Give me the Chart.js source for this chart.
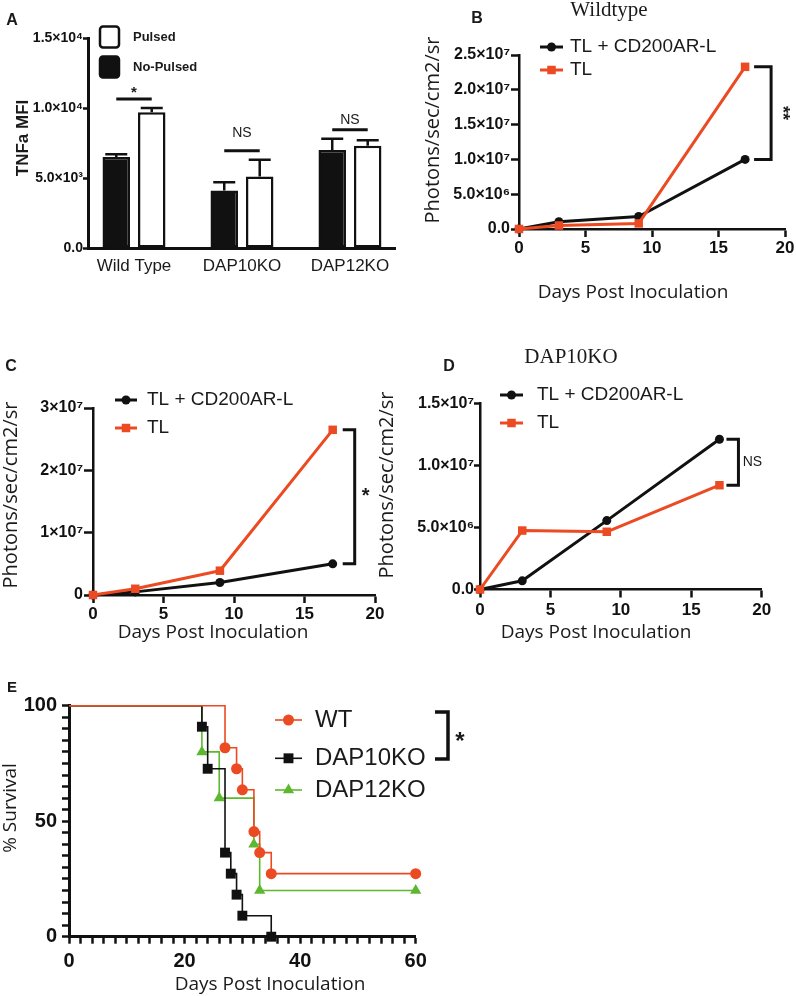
<!DOCTYPE html>
<html><head><meta charset="utf-8">
<script src="https://cdn.jsdelivr.net/npm/chart.js@4.4.1/dist/chart.umd.min.js"></script>
<style>
html,body{margin:0;padding:0;background:#fff;}
#wrap{position:relative;width:796px;height:996px;overflow:hidden;background:#fff;}
canvas{position:absolute;}
</style></head><body>
<div id="wrap">
<canvas id="cA" width="410" height="290" style="left:0;top:0;width:410px;height:290px"></canvas>
<canvas id="cB" width="396" height="310" style="left:400px;top:0;width:396px;height:310px"></canvas>
<canvas id="cC" width="400" height="310" style="left:0;top:340px;width:400px;height:310px"></canvas>
<canvas id="cD" width="426" height="310" style="left:370px;top:340px;width:426px;height:310px"></canvas>
<canvas id="cE" width="796" height="346" style="left:0;top:650px;width:796px;height:346px"></canvas>
</div>
<script>
// ---------------- DATA ----------------
const groupsA = ['Wild Type', 'DAP10KO', 'DAP12KO'];
const noPulsedA = [6500, 4100, 7000];
const noPulsedErrA = [200, 600, 800];
const pulsedA = [9700, 5100, 7300];
const pulsedErrA = [300, 1200, 400];
const sigA = ['*', 'NS', 'NS'];
const yTicksA = ['0.0', '5.0×10³', '1.0×10⁴', '1.5×10⁴'];

const days = [0, 3, 9, 17];
const xTicksDays = ['0', '5', '10', '15', '20'];
const seriesNames = ['TL + CD200AR-L', 'TL'];
const wtCD200 = [0, 1.05e6, 1.8e6, 1.0e7];
const wtTL = [0, 5e5, 8e5, 2.33e7];
const yTicksB = ['0.0', '5.0×10⁶', '1.0×10⁷', '1.5×10⁷', '2.0×10⁷', '2.5×10⁷'];
const cCD200 = [0, 5e5, 2.0e6, 5.0e6];
const cTL = [0, 1.0e6, 3.9e6, 2.65e7];
const yTicksC = ['0', '1×10⁷', '2×10⁷', '3×10⁷'];
const dap10CD200 = [0, 7e5, 5.55e6, 1.21e7];
const dap10TL = [0, 4.75e6, 4.65e6, 8.4e6];
const yTicksD = ['0.0', '5.0×10⁶', '1.0×10⁷', '1.5×10⁷'];

const survNames = ['WT', 'DAP10KO', 'DAP12KO'];
const wtDays = [0, 27, 29, 30, 32, 33, 35, 60];
const wtSurv = [100, 81.8, 72.7, 63.6, 45.5, 36.4, 27.3, 27.3];
const dap10Days = [0, 23, 24, 27, 28, 29, 30, 35];
const dap10Surv = [100, 90.9, 72.7, 36.4, 27.3, 18.2, 9.1, 0];
const dap12Days = [0, 23, 26, 32, 33, 60];
const dap12Surv = [100, 80, 60, 40, 20, 20];
const xTicksE = ['0', '20', '40', '60'];
const yTicksE = ['0', '50', '100'];

// ---------------- STYLE ----------------
const RED = '#EB4A22', BLK = '#111111', GRN = '#5DB82F', TXT = '#1a1a1a';
const SANS = '"Liberation Sans", Arial, sans-serif';
const OPEN = '"Open Sans", sans-serif';
const SERIF = '"Liberation Serif", "Times New Roman", serif';

Chart.defaults.font.family = SANS;
Chart.defaults.color = TXT;
Chart.defaults.animation = false;
Chart.defaults.responsive = false;
Chart.defaults.maintainAspectRatio = false;
Chart.defaults.plugins.legend.display = false;
Chart.defaults.plugins.tooltip.enabled = false;

function drawMarker(ctx, style, x, y, r, color) {
  ctx.save();
  ctx.fillStyle = color;
  ctx.beginPath();
  if (style === 'rect') {
    const s = r * Math.SQRT1_2;
    ctx.rect(x - s, y - s, 2 * s, 2 * s);
  } else if (style === 'triangle') {
    let a = 0;
    ctx.moveTo(x + Math.sin(a) * r, y - Math.cos(a) * r);
    a += 2 * Math.PI / 3; ctx.lineTo(x + Math.sin(a) * r, y - Math.cos(a) * r);
    a += 2 * Math.PI / 3; ctx.lineTo(x + Math.sin(a) * r, y - Math.cos(a) * r);
    ctx.closePath();
  } else {
    ctx.arc(x, y, r, 0, Math.PI * 2);
  }
  ctx.fill();
  ctx.restore();
}

// free text items (titles, panel letters, axis titles)
const textPlugin = {
  id: 'texts',
  afterDraw(chart, args, o) {
    const ctx = chart.ctx;
    (o.items || []).forEach(it => {
      ctx.save();
      ctx.font = it.font;
      ctx.fillStyle = it.color || TXT;
      ctx.textAlign = it.align || 'center';
      ctx.textBaseline = 'middle';
      ctx.translate(it.x, it.y);
      if (it.rot) ctx.rotate(it.rot);
      ctx.fillText(it.t, 0, 0);
      ctx.restore();
    });
  }
};

// legend with line + marker per dataset
const lineLegend = {
  id: 'lineLegend',
  afterDraw(chart, args, o) {
    if (!o.rows) return;
    const ctx = chart.ctx;
    chart.data.datasets.forEach((ds, i) => {
      const y = o.rows[i];
      ctx.save();
      ctx.strokeStyle = ds.borderColor;
      ctx.lineWidth = o.lineWidth || ds.borderWidth;
      ctx.beginPath(); ctx.moveTo(o.x0, y); ctx.lineTo(o.x1, y); ctx.stroke();
      drawMarker(ctx, ds.pointStyle, (o.x0 + o.x1) / 2, y, o.radius[i], ds.borderColor);
      ctx.font = o.font; ctx.fillStyle = TXT;
      ctx.textAlign = 'left'; ctx.textBaseline = 'middle';
      ctx.fillText(ds.label, o.tx, y + (o.dy || 0));
      ctx.restore();
    });
  }
};

// significance bracket at the last points of two datasets
const endBracket = {
  id: 'endBracket',
  afterDraw(chart, args, o) {
    if (!o.label) return;
    const ctx = chart.ctx;
    const m0 = chart.getDatasetMeta(0).data, m1 = chart.getDatasetMeta(1).data;
    const p0 = m0[m0.length - 1], p1 = m1[m1.length - 1];
    const x = Math.max(p0.x, p1.x) + o.dx;
    const y1 = Math.min(p0.y, p1.y), y2 = Math.max(p0.y, p1.y);
    ctx.save();
    ctx.strokeStyle = BLK; ctx.lineWidth = o.lw; ctx.lineJoin = 'miter';
    ctx.beginPath();
    ctx.moveTo(x - o.tick, y1); ctx.lineTo(x, y1); ctx.lineTo(x, y2); ctx.lineTo(x - o.tick, y2);
    ctx.stroke();
    ctx.font = o.font; ctx.fillStyle = TXT; ctx.textAlign = 'center'; ctx.textBaseline = 'middle';
    ctx.translate(x + o.labelDx, (y1 + y2) / 2 + (o.labelDy || 0));
    if (o.rot) ctx.rotate(o.rot);
    ctx.fillText(o.label, 0, 0);
    ctx.restore();
  }
};

// bar panel extras: error bars, significance lines, box legend
const barExtras = {
  id: 'barExtras',
  afterDatasetsDraw(chart, args, o) {
    if (!o.errors) return;
    const ctx = chart.ctx, ys = chart.scales.y;
    const tops = [];
    ctx.save();
    ctx.strokeStyle = BLK; ctx.lineWidth = 2.5;
    chart.data.datasets.forEach((ds, di) => {
      chart.getDatasetMeta(di).data.forEach((el, i) => {
        const top = ys.getPixelForValue(ds.data[i].y + o.errors[di][i]);
        tops[i] = tops[i] === undefined ? top : Math.min(tops[i], top);
        ctx.beginPath();
        ctx.moveTo(el.x, el.y); ctx.lineTo(el.x, top);
        ctx.moveTo(el.x - o.cap, top); ctx.lineTo(el.x + o.cap, top);
        ctx.stroke();
      });
    });
    // significance lines
    const a = chart.getDatasetMeta(0).data, b = chart.getDatasetMeta(1).data;
    ctx.lineWidth = 3;
    o.sig.forEach((s, i) => {
      const y = tops[i] - o.sigGap;
      ctx.beginPath(); ctx.moveTo(a[i].x, y); ctx.lineTo(b[i].x, y); ctx.stroke();
      ctx.font = s === '*' ? 'bold 15px ' + SANS : '14px ' + SANS;
      ctx.fillStyle = TXT; ctx.textAlign = 'center'; ctx.textBaseline = 'middle';
      ctx.fillText(s, (a[i].x + b[i].x) / 2, y - o.sigText[i]);
    });
    // box legend (Pulsed on top, No-Pulsed below)
    o.boxes.forEach(bx => {
      const ds = chart.data.datasets[bx.ds];
      ctx.beginPath();
      ctx.roundRect(bx.x, bx.y, bx.w, bx.h, 3);
      ctx.fillStyle = ds.backgroundColor; ctx.fill();
      ctx.lineWidth = 2.5; ctx.strokeStyle = BLK; ctx.stroke();
      ctx.font = 'bold 13px ' + SANS; ctx.fillStyle = TXT;
      ctx.textAlign = 'left'; ctx.textBaseline = 'middle';
      ctx.fillText(ds.label, bx.x + 33, bx.y + bx.h / 2);
    });
    ctx.restore();
  }
};

Chart.register(textPlugin, lineLegend, endBracket, barExtras);

function axisStyle(width) {
  return { border: { display: true, color: BLK, width: width } };
}

// ---------------- PANEL A ----------------
new Chart(document.getElementById('cA'), {
  type: 'bar',
  data: {
    datasets: [
      { label: 'No-Pulsed', data: noPulsedA.map((v, i) => ({ x: i, y: v })),
        backgroundColor: BLK, borderColor: BLK, borderWidth: 2.5 },
      { label: 'Pulsed', data: pulsedA.map((v, i) => ({ x: i, y: v })),
        backgroundColor: '#ffffff', borderColor: BLK, borderWidth: 2.5 }
    ]
  },
  options: {
    layout: { padding: { left: 0, top: 38, right: 15, bottom: 12 } },
    datasets: { bar: { categoryPercentage: 0.657, barPercentage: 0.775, borderSkipped: false } },
    scales: {
      x: {
        type: 'linear', min: -0.426, max: 2.417, offset: false,
        afterFit: s => { s.height = 30; },
        afterBuildTicks: s => { s.ticks = s.ticks.filter(t => Number.isInteger(t.value)); },
        ticks: { stepSize: 1, includeBounds: false, callback: v => groupsA[v], font: { size: 17 }, color: TXT, padding: 8, maxRotation: 0, autoSkip: false },
        grid: { display: true, offset: false, drawOnChartArea: false, drawTicks: false },
        ...axisStyle(3)
      },
      y: {
        min: 0, max: 15000,
        afterFit: s => { s.width = 88; },
        ticks: { stepSize: 5000, callback: (v, i) => yTicksA[i], font: { size: 14, weight: 'bold' }, color: BLK, padding: 0 },
        grid: { drawOnChartArea: false, tickLength: 5, tickWidth: 2.5, tickColor: BLK },
        ...axisStyle(3)
      }
    },
    plugins: {
      barExtras: {
        errors: [noPulsedErrA, pulsedErrA], cap: 11, sig: sigA, sigGap: 9, sigText: [6, 18, 10],
        boxes: [{ ds: 1, x: 100, y: 26.5, w: 19, h: 21 }, { ds: 0, x: 100, y: 56.5, w: 19, h: 21 }]
      },
      texts: { items: [
        { t: 'A', x: 12, y: 21, font: 'bold 16px ' + SANS },
        { t: 'TNFa MFI', x: 23, y: 138, rot: -Math.PI / 2, font: 'bold 17px ' + SANS }
      ] }
    }
  }
});

// ---------------- LINE PANELS B, C, D ----------------
function lineChart(id, cd, tl, yMax, yStep, yTicks, geo, extra) {
  return new Chart(document.getElementById(id), {
    type: 'line',
    data: {
      datasets: [
        { label: seriesNames[0], data: days.map((d, i) => ({ x: d, y: cd[i] })),
          borderColor: BLK, backgroundColor: BLK, borderWidth: 3, pointStyle: 'circle',
          pointRadius: 4.5, pointBorderWidth: 0, pointBackgroundColor: BLK, order: 1, clip: false, borderJoinStyle: 'round' },
        { label: seriesNames[1], data: days.map((d, i) => ({ x: d, y: tl[i] })),
          borderColor: RED, backgroundColor: RED, borderWidth: 3, pointStyle: 'rect',
          pointRadius: 6, pointBorderWidth: 0, pointBackgroundColor: RED, order: 0, clip: false, borderJoinStyle: 'round' }
      ]
    },
    options: {
      layout: { padding: geo.padding },
      scales: {
        x: {
          type: 'linear', min: 0, max: 20,
          afterFit: s => { s.height = 30; },
          ticks: { stepSize: 5, callback: (v, i) => xTicksDays[i], font: { size: 17, weight: 'bold' }, color: BLK, padding: geo.xPad, maxRotation: 0, autoSkip: false },
          grid: { drawOnChartArea: false, tickLength: 8, tickWidth: 2.5, tickColor: BLK },
          ...axisStyle(2.5)
        },
        y: {
          type: 'linear', min: 0, max: yMax,
          afterFit: s => { s.width = geo.yW; },
          ticks: { stepSize: yStep, callback: (v, i) => yTicks[i], font: { size: 16, weight: 'bold' }, color: BLK, padding: geo.yPad },
          grid: { drawOnChartArea: false, tickLength: geo.yTick, tickWidth: 2.5, tickColor: BLK },
          ...axisStyle(2.5)
        }
      },
      plugins: extra
    }
  });
}

lineChart('cB', wtCD200, wtTL, 2.5e7, 5e6, yTicksB,
  { padding: { left: 0, top: 55, right: 11, bottom: 51 }, yW: 119, xPad: 1, yPad: 1, yTick: 8 },
  {
    lineLegend: { x0: 140, x1: 163, tx: 170, rows: [47, 70], font: '19px ' + SANS, radius: [4.5, 6] },
    endBracket: { dx: 26, tick: 17, lw: 3, label: '**', font: 'bold 18px ' + SANS, labelDx: 11, rot: Math.PI / 2 },
    texts: { items: [
      { t: 'Wildtype', x: 209, y: 10, font: '21px ' + SERIF },
      { t: 'B', x: 77, y: 19, font: 'bold 16px ' + SANS },
      { t: 'Days Post Inoculation', x: 233, y: 293, font: '19px ' + OPEN },
      { t: 'Photons/sec/cm2/sr', x: 33, y: 130, rot: -Math.PI / 2, font: '20px ' + OPEN }
    ] }
  });

lineChart('cC', cCD200, cTL, 3e7, 1e7, yTicksC,
  { padding: { left: 0, top: 68, right: 25, bottom: 25 }, yW: 93, xPad: 1, yPad: 1, yTick: 9 },
  {
    lineLegend: { x0: 115, x1: 137, tx: 147, rows: [60, 88], font: '19px ' + SANS, radius: [4.5, 6] },
    endBracket: { dx: 22, tick: 12, lw: 3, label: '*', font: 'bold 20px ' + SANS, labelDx: 11, labelDy: 0 },
    texts: { items: [
      { t: 'C', x: 11, y: 27, font: 'bold 16px ' + SANS },
      { t: 'Days Post Inoculation', x: 213, y: 293, font: '19px ' + OPEN },
      { t: 'Photons/sec/cm2/sr', x: 11, y: 155, rot: -Math.PI / 2, font: '20px ' + OPEN }
    ] }
  });

lineChart('cD', dap10CD200, dap10TL, 1.5e7, 5e6, yTicksD,
  { padding: { left: 0, top: 63.3, right: 34.3, bottom: 30.5 }, yW: 110, xPad: 2.3, yPad: 0, yTick: 6 },
  {
    lineLegend: { x0: 130, x1: 153, tx: 167, rows: [55, 83], font: '19px ' + SANS, radius: [4.5, 6] },
    endBracket: { dx: 19, tick: 12, lw: 3, label: 'NS', font: '14px ' + SANS, labelDx: 14 },
    texts: { items: [
      { t: 'DAP10KO', x: 201, y: 17, font: '21px ' + SERIF },
      { t: 'D', x: 79, y: 27, font: 'bold 16px ' + SANS },
      { t: 'Days Post Inoculation', x: 226, y: 293, font: '19px ' + OPEN },
      { t: 'Photons/sec/cm2/sr', x: 17, y: 145, rot: -Math.PI / 2, font: '20px ' + OPEN }
    ] }
  });

// ---------------- PANEL E ----------------
const eBracket = {
  id: 'eBracket',
  afterDraw(chart) {
    const ctx = chart.ctx;
    ctx.save();
    ctx.strokeStyle = BLK; ctx.lineWidth = 3.5;
    ctx.beginPath();
    ctx.moveTo(435, 62); ctx.lineTo(448, 62); ctx.lineTo(448, 109); ctx.lineTo(435, 109);
    ctx.stroke();
    ctx.font = 'bold 24px ' + SANS; ctx.fillStyle = TXT; ctx.textAlign = 'center'; ctx.textBaseline = 'middle';
    ctx.fillText('*', 460, 92);
    ctx.restore();
  }
};

function survSet(label, xs, ys, color, style, r) {
  return {
    label, data: xs.map((x, i) => ({ x, y: ys[i] })),
    borderColor: color, backgroundColor: color, pointBackgroundColor: color,
    borderWidth: 1.6, stepped: true, pointStyle: style,
    pointRadius: c => (c.dataIndex === 0 ? 0 : r), pointBorderWidth: 0, clip: false
  };
}

new Chart(document.getElementById('cE'), {
  type: 'line',
  data: {
    datasets: [
      survSet(survNames[0], wtDays, wtSurv, RED, 'circle', 5.5),
      survSet(survNames[1], dap10Days, dap10Surv, BLK, 'rect', 7),
      survSet(survNames[2], dap12Days, dap12Surv, GRN, 'triangle', 6.5)
    ]
  },
  options: {
    layout: { padding: { left: 0, top: 55.7, right: 380.3, bottom: 19.3 } },
    scales: {
      x: {
        type: 'linear', min: 0, max: 60,
        afterFit: s => { s.height = 40; },
        ticks: { stepSize: 2, callback: v => (v % 20 === 0 ? xTicksE[v / 20] : ''), font: { size: 20, weight: 'bold' }, color: BLK, padding: 6, maxRotation: 0, autoSkip: false },
        grid: { drawOnChartArea: false, tickLength: 7, tickWidth: 2.5, tickColor: BLK },
        ...axisStyle(3)
      },
      y: {
        type: 'linear', min: 0, max: 100,
        afterFit: s => { s.width = 69; },
        ticks: { stepSize: 5, callback: v => (v % 50 === 0 ? yTicksE[v / 50] : ''), font: { size: 20, weight: 'bold' }, color: BLK, padding: 5, autoSkip: false },
        grid: { drawOnChartArea: false, tickLength: 7, tickWidth: 2.5, tickColor: BLK },
        ...axisStyle(3)
      }
    },
    plugins: {
      lineLegend: { x0: 275, x1: 302, tx: 315, rows: [70, 108.3, 140], font: '24px ' + SANS, radius: [5.5, 7, 6.5], lineWidth: 1.6 },
      texts: { items: [
        { t: 'E', x: 12, y: 38, font: 'bold 15px ' + SANS },
        { t: 'Days Post Inoculation', x: 270, y: 335, font: '19px ' + OPEN },
        { t: '% Survival', x: 11, y: 158, rot: -Math.PI / 2, font: '19px ' + OPEN }
      ] }
    }
  },
  plugins: [eBracket]
});
</script>
</body></html>
